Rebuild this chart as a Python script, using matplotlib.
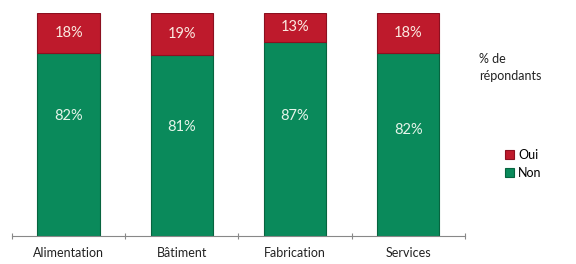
import matplotlib.pyplot as plt
import numpy as np

categories = ["Alimentation", "Bâtiment", "Fabrication", "Services"]
non = [82, 81, 87, 82]
oui = [18, 19, 13, 18]
# where the green labels sit (fraction of bar height), as in the source
non_label_pos = [54, 49, 54, 47.5]

plt.rcParams['font.family'] = ['Lato', 'DejaVu Sans']

fig = plt.figure(figsize=(5.76, 2.64), dpi=100)
ax = fig.add_axes([0.0208, 0.106, 0.786, 0.845])

x = np.arange(len(categories))
green = '#0a8a5b'
red = '#be1a2c'
w = 0.55
ax.bar(x, non, width=w, color=green, edgecolor='#07643f', linewidth=0.8, label="Non")
ax.bar(x, oui, width=w, bottom=non, color=red, edgecolor='#8c1020', linewidth=0.8, label="Oui")

for i in range(len(categories)):
    ax.text(x[i], non[i] + oui[i] / 2, f"{oui[i]}%", ha='center', va='center',
            color='#fbe9e0', fontsize=10.5)
    ax.text(x[i], non_label_pos[i], f"{non[i]}%", ha='center', va='center',
            color='#e6f5ea', fontsize=10.5)

ax.set_xlim(-0.5, len(categories) - 0.5)
ax.set_ylim(0, 100)
ax.set_yticks([])
ax.set_xticks(np.arange(-0.5, len(categories), 1.0))
ax.set_xticklabels([])
ax.set_xticks(x, minor=True)
ax.set_xticklabels(categories, minor=True, fontsize=9, color='#222222')
ax.tick_params(axis='x', which='minor', length=0, pad=8)
ax.tick_params(axis='x', which='major', length=5, direction='inout', color='#888888')
for s in ['top', 'right', 'left']:
    ax.spines[s].set_visible(False)
ax.spines['bottom'].set_color('#888888')

fig.text(0.832, 0.80, "% de\nrépondants", fontsize=9, color='#222222',
         ha='left', va='top', linespacing=1.5)
h, l = ax.get_legend_handles_labels()
fig.legend(h[::-1], l[::-1], loc='center left', bbox_to_anchor=(0.858, 0.38),
           frameon=False, fontsize=9, handlelength=0.7, handleheight=0.7,
           handletextpad=0.3, labelspacing=0.5)

fig.savefig("out.png", dpi=100)
